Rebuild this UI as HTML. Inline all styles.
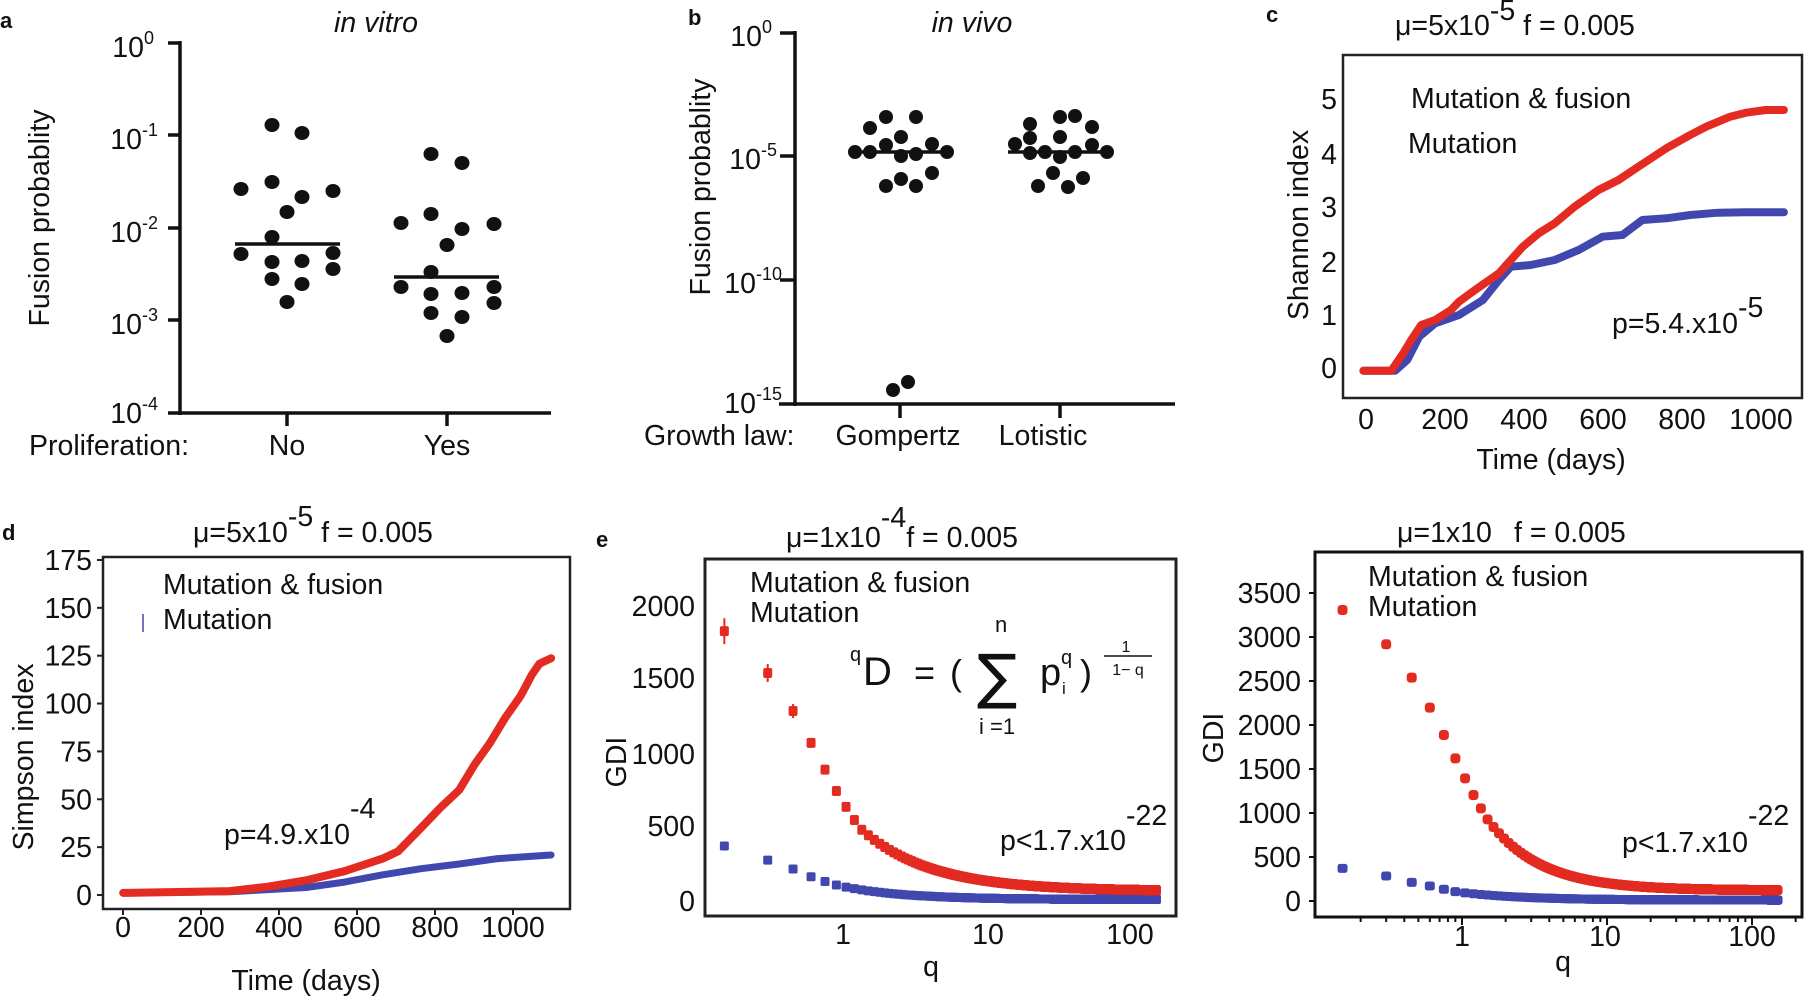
<!DOCTYPE html>
<html><head><meta charset="utf-8"><style>
html,body{margin:0;padding:0;background:#fff;}
svg{display:block;}
text{font-family:"Liberation Sans",sans-serif;fill:#111;}
.t{font-size:28.5px;}
.s{font-size:18px;}
.b{font-size:22px;font-weight:bold;}
</style></head><body>
<svg id="svg" xmlns="http://www.w3.org/2000/svg" width="1805" height="998" viewBox="0 0 1805 998">
<!-- Panel a -->
<text class="b" x="0" y="28">a</text>
<text class="t" x="376" y="32" text-anchor="middle" font-style="italic">in vitro</text>
<g stroke="#111" stroke-width="3.5" fill="none">
<line x1="180" y1="41" x2="180" y2="415"/>
<line x1="168" y1="413" x2="551" y2="413"/>
<line x1="168" y1="43" x2="180" y2="43"/><line x1="168" y1="135" x2="180" y2="135"/><line x1="168" y1="228" x2="180" y2="228"/><line x1="168" y1="320" x2="180" y2="320"/>
<line x1="287" y1="413" x2="287" y2="426"/><line x1="447" y1="413" x2="447" y2="426"/>
<line x1="235" y1="244" x2="340" y2="244"/><line x1="394" y1="277" x2="499" y2="277"/>
</g>
<g text-anchor="end">
<text class="t" x="154" y="57">10<tspan class="s" dy="-13">0</tspan></text>
<text class="t" x="158" y="149">10<tspan class="s" dy="-13">-1</tspan></text>
<text class="t" x="158" y="242">10<tspan class="s" dy="-13">-2</tspan></text>
<text class="t" x="158" y="334">10<tspan class="s" dy="-13">-3</tspan></text>
<text class="t" x="158" y="423">10<tspan class="s" dy="-13">-4</tspan></text>
</g>
<text class="t" transform="translate(49,218) rotate(-90)" text-anchor="middle">Fusion probablity</text>
<text class="t" x="29" y="455">Proliferation:</text>
<text class="t" x="287" y="455" text-anchor="middle">No</text>
<text class="t" x="447" y="455" text-anchor="middle">Yes</text>
<g id="dotsA" fill="#111"></g>

<!-- Panel b -->
<text class="b" x="688" y="25">b</text>
<text class="t" x="972" y="32" text-anchor="middle" font-style="italic">in vivo</text>
<g stroke="#111" stroke-width="3.5" fill="none">
<line x1="795" y1="31" x2="795" y2="406"/>
<line x1="779" y1="404" x2="1175" y2="404"/>
<line x1="780" y1="33" x2="795" y2="33"/><line x1="780" y1="156" x2="795" y2="156"/><line x1="780" y1="280" x2="795" y2="280"/>
<line x1="900" y1="404" x2="900" y2="418"/><line x1="1060" y1="404" x2="1060" y2="418"/>
<line x1="852" y1="152" x2="952" y2="152"/><line x1="1008" y1="152" x2="1107" y2="152"/>
</g>
<g text-anchor="end">
<text class="t" x="772" y="46">10<tspan class="s" dy="-13">0</tspan></text>
<text class="t" x="777" y="169">10<tspan class="s" dy="-13">-5</tspan></text>
<text class="t" x="782" y="293">10<tspan class="s" dy="-13">-10</tspan></text>
<text class="t" x="782" y="413">10<tspan class="s" dy="-13">-15</tspan></text>
</g>
<text class="t" transform="translate(710,187) rotate(-90)" text-anchor="middle">Fusion probablity</text>
<text class="t" x="644" y="445">Growth law:</text>
<text class="t" x="898" y="445" text-anchor="middle">Gompertz</text>
<text class="t" x="1043" y="445" text-anchor="middle">Lotistic</text>
<g id="dotsB" fill="#111"></g>

<!-- Panel c -->
<text class="b" x="1266" y="22">c</text>
<text class="t" x="1395" y="35">μ=5x10<tspan dy="-15">-5</tspan><tspan dy="15"> f = 0.005</tspan></text>
<rect x="1343" y="55" width="459" height="343" fill="none" stroke="#222" stroke-width="2.5"/>
<g text-anchor="end">
<text class="t" x="1337" y="109">5</text><text class="t" x="1337" y="164">4</text><text class="t" x="1337" y="217">3</text>
<text class="t" x="1337" y="272">2</text><text class="t" x="1337" y="325">1</text><text class="t" x="1337" y="378">0</text>
</g>
<g text-anchor="middle">
<text class="t" x="1366" y="429">0</text><text class="t" x="1445" y="429">200</text><text class="t" x="1524" y="429">400</text>
<text class="t" x="1603" y="429">600</text><text class="t" x="1682" y="429">800</text><text class="t" x="1761" y="429">1000</text>
</g>
<text class="t" x="1551" y="469" text-anchor="middle">Time (days)</text>
<text class="t" transform="translate(1308,225) rotate(-90)" text-anchor="middle">Shannon index</text>
<text class="t" x="1411" y="108">Mutation &amp; fusion</text>
<text class="t" x="1408" y="153">Mutation</text>
<g id="curC"></g>
<text class="t" x="1612" y="333">p=5.4.x10<tspan dy="-16">-5</tspan></text>

<!-- Panel d -->
<text class="b" x="2" y="540">d</text>
<text class="t" x="193" y="542">μ=5x10<tspan dy="-16">-5</tspan><tspan dy="16"> f = 0.005</tspan></text>
<rect x="103" y="557" width="467" height="352" fill="none" stroke="#222" stroke-width="2.5"/>
<g id="ticksD" stroke="#222" stroke-width="2"></g>
<g text-anchor="end" id="labD"></g>
<g text-anchor="middle">
<text class="t" x="123" y="937">0</text><text class="t" x="201" y="937">200</text><text class="t" x="279" y="937">400</text>
<text class="t" x="357" y="937">600</text><text class="t" x="435" y="937">800</text><text class="t" x="513" y="937">1000</text>
</g>
<text class="t" x="306" y="990" text-anchor="middle">Time (days)</text>
<text class="t" transform="translate(33,757) rotate(-90)" text-anchor="middle">Simpson index</text>
<text class="t" x="163" y="594">Mutation &amp; fusion</text>
<text class="t" x="163" y="629">Mutation</text>
<line x1="143" y1="614" x2="143" y2="632" stroke="#4048b0" stroke-width="1.5"/>
<g id="curD"></g>
<text class="t" x="224" y="844">p=4.9.x10<tspan dy="-26">-4</tspan></text>

<!-- Panel e -->
<text class="b" x="596" y="547">e</text>
<text class="t" x="786" y="547">μ=1x10<tspan dy="-20">-4</tspan><tspan dy="20">f = 0.005</tspan></text>
<rect x="705" y="559" width="471" height="357" fill="none" stroke="#222" stroke-width="3"/>
<g text-anchor="end">
<text class="t" x="695" y="616">2000</text><text class="t" x="695" y="688">1500</text><text class="t" x="695" y="764">1000</text>
<text class="t" x="695" y="836">500</text><text class="t" x="695" y="911">0</text>
</g>
<g text-anchor="middle">
<text class="t" x="843" y="944">1</text><text class="t" x="988" y="944">10</text><text class="t" x="1130" y="944">100</text>
</g>
<text class="t" x="931" y="976" text-anchor="middle">q</text>
<text class="t" transform="translate(626,762) rotate(-90)" text-anchor="middle">GDI</text>
<text class="t" x="750" y="592">Mutation &amp; fusion</text>
<text class="t" x="750" y="622">Mutation</text>
<g id="ptsE"></g>
<text x="850" y="661" style="font-size:20px">q</text>
<text x="863" y="685" style="font-size:40px">D</text>
<text x="914" y="685" style="font-size:36px">=</text>
<text x="950" y="685" style="font-size:36px">(</text>
<text x="977" y="697" style="font-size:60px;font-family:'DejaVu Sans',sans-serif">∑</text>
<text x="995" y="632" style="font-size:22px">n</text>
<text x="979" y="734" style="font-size:22px">i =1</text>
<text x="1040" y="685" style="font-size:38px">p</text>
<text x="1062" y="694" style="font-size:17px">i</text>
<text x="1061" y="664" style="font-size:20px">q</text>
<text x="1080" y="685" style="font-size:36px">)</text>
<text x="1126" y="652" style="font-size:16px" text-anchor="middle">1</text>
<line x1="1104" y1="656" x2="1152" y2="656" stroke="#111" stroke-width="1.5"/>
<text x="1128" y="675" style="font-size:16px" text-anchor="middle">1− q</text>
<text class="t" x="1000" y="850">p&lt;1.7.x10<tspan dy="-25">-22</tspan></text>

<!-- Panel f -->
<text class="t" x="1397" y="542">μ=1x10</text><text class="t" x="1514" y="542">f = 0.005</text>
<rect x="1315" y="552" width="487" height="365" fill="none" stroke="#111" stroke-width="3"/>
<g id="ticksF" stroke="#111" stroke-width="2"></g>
<g text-anchor="end">
<text class="t" x="1301" y="603">3500</text><text class="t" x="1301" y="647">3000</text><text class="t" x="1301" y="691">2500</text>
<text class="t" x="1301" y="735">2000</text><text class="t" x="1301" y="779">1500</text><text class="t" x="1301" y="823">1000</text>
<text class="t" x="1301" y="867">500</text><text class="t" x="1301" y="911">0</text>
</g>
<g text-anchor="middle">
<text class="t" x="1462" y="946">1</text><text class="t" x="1605" y="946">10</text><text class="t" x="1752" y="946">100</text>
</g>
<text class="t" x="1563" y="971" text-anchor="middle">q</text>
<text class="t" transform="translate(1223,738) rotate(-90)" text-anchor="middle">GDI</text>
<text class="t" x="1368" y="586">Mutation &amp; fusion</text>
<text class="t" x="1368" y="616">Mutation</text>
<g id="ptsF"></g>
<text class="t" x="1622" y="852">p&lt;1.7.x10<tspan dy="-27">-22</tspan></text>
</svg>
<script>
var NS='http://www.w3.org/2000/svg';
function add(p,tag,a,txt){var e=document.createElementNS(NS,tag);for(var k in a)e.setAttribute(k,a[k]);if(txt)e.textContent=txt;document.getElementById(p).appendChild(e);return e;}
var RED='#e32b22',BLUE='#4048b0';
var A=[[272,125],[302,133],[241,189],[272,182],[302,197],[333,191],[287,212],[272,237],[241,254],[272,262],[302,261],[333,253],[333,269],[272,279],[302,284],[287,302],
[431,154],[462,163],[401,223],[431,214],[462,229],[494,224],[447,245],[431,272],[401,287],[431,294],[462,293],[494,287],[494,303],[431,313],[462,317],[447,336]];
A.forEach(function(p){add('dotsA','ellipse',{cx:p[0],cy:p[1],rx:7.5,ry:7});});
var B=[[855,152],[870,152],[886,145],[901,156],[916,154],[932,144],[947,152],[870,128],[886,117],[916,117],[901,137],[886,186],[901,179],[916,186],[932,173],[893,390],[908,382],
[1015,144],[1030,153],[1045,152],[1060,157],[1075,152],[1092,145],[1107,152],[1030,124],[1030,138],[1060,117],[1075,116],[1092,127],[1060,137],[1053,173],[1083,178],[1038,186],[1068,187]];
B.forEach(function(p){add('dotsB','circle',{cx:p[0],cy:p[1],r:7});});
function mapC(l){return l.map(function(p){return (1180+p[0]*0.3986).toFixed(1)+','+(p[1]/3).toFixed(1);}).join(' ');}
var cb=[[460,1112],[540,1112],[570,1080],[600,1010],[640,970],[700,945],[760,900],[800,840],[830,800],[880,795],[940,780],[1000,750],[1060,710],[1110,705],[1160,660],[1220,655],[1280,645],[1350,638],[1420,637],[1515,637]];
var cr=[[460,1112],[530,1112],[560,1060],[580,1020],[605,975],[640,960],[680,930],[700,905],[740,870],[800,820],[830,780],[860,740],[900,700],[940,670],[990,620],[1050,570],[1100,540],[1150,500],[1220,445],[1280,405],[1320,380],[1380,350],[1420,338],[1470,330],[1515,330]];
add('curC','polyline',{points:mapC(cb),fill:'none',stroke:BLUE,'stroke-width':8,'stroke-linecap':'round','stroke-linejoin':'round'});
add('curC','polyline',{points:mapC(cr),fill:'none',stroke:RED,'stroke-width':8,'stroke-linecap':'round','stroke-linejoin':'round'});
var dl=['0','25','50','75','100','125','150','175'];
for(var i=0;i<8;i++){var y=895-i*47.86;add('ticksD','line',{x1:97,y1:y,x2:103,y2:y});add('labD','text',{'class':'t',x:92,y:y+10},dl[i]);}
for(var i=0;i<6;i++){var x=123+i*78;add('ticksD','line',{x1:x,y1:909,x2:x,y2:915});}
function mapD(l){return l.map(function(p){return (p[0]*0.3827).toFixed(1)+','+(429+p[1]*0.361).toFixed(1);}).join(' ');}
var db=[[322,1285],[600,1282],[800,1270],[900,1255],[1000,1235],[1100,1218],[1200,1205],[1300,1190],[1440,1180]];
var dr=[[322,1285],[600,1280],[700,1268],[800,1250],[900,1225],[1000,1190],[1040,1170],[1100,1105],[1150,1050],[1200,1000],[1240,930],[1280,870],[1320,800],[1360,740],[1390,680],[1410,650],[1440,635]];
add('curD','polyline',{points:mapD(db),fill:'none',stroke:BLUE,'stroke-width':7,'stroke-linecap':'round','stroke-linejoin':'round'});
add('curD','polyline',{points:mapD(dr),fill:'none',stroke:RED,'stroke-width':8,'stroke-linecap':'round','stroke-linejoin':'round'});
function L(q){return Math.log(q)/Math.LN10;}
var Y0=901,SY=0.1476;
var er=[1828,1545,1287,1071,890,745,638,549,483],eb=[373,277,217,164,132,108];
function eR(k){var q=0.15*k;return k<=9?er[k-1]:67+416*Math.pow(1.35/q,0.9);}
function eB(k){var q=0.15*k;return k<=6?eb[k-1]:10+98*(0.9/q);}
for(var k=1000;k>=1;k--){var q=0.15*k,x=843+144*L(q);
 add('ptsE','rect',{x:x-4.5,y:Y0-SY*eB(k)-4.5,width:9,height:9,rx:1.5,fill:BLUE});}
for(var k=1000;k>=1;k--){var q=0.15*k,x=843+144*L(q),y=Y0-SY*eR(k);
 add('ptsE','rect',{x:x-4.5,y:y-5,width:9,height:10,rx:2,fill:RED});
 if(k<=3){var h=[13,9,7][k-1];add('ptsE','line',{x1:x,y1:y-h,x2:x,y2:y+h,stroke:RED,'stroke-width':2});}}
var fr=[3307,2917,2538,2197,1886,1621,1394,1204,1053,928],fb=[371,284,212,170,133,106];
function fR(k){var q=0.15*k;return k<=10?fr[k-1]:120+808*Math.pow(1.5/q,1.2);}
function fB(k){var q=0.15*k;return k<=6?fb[k-1]:10+96*(0.9/q);}
for(var i=0;i<8;i++){var y=901-i*44;add('ticksF','line',{x1:1309,y1:y,x2:1315,y2:y});}
[0.2,0.3,0.4,0.5,0.6,0.7,0.8,0.9,1,2,3,4,5,6,7,8,9,10,20,30,40,50,60,70,80,90,100,200].forEach(function(q){var x=1462+145*L(q);if(x>1316&&x<1802){var m=(q==1||q==10||q==100);add('ticksF','line',{x1:x,y1:917,x2:x,y2:m?925:922});}});
for(var k=1000;k>=1;k--){var q=0.15*k,x=1462+145*L(q);
 add('ptsF','rect',{x:x-5,y:901-0.088*fB(k)-4.5,width:10,height:9,rx:2.5,fill:BLUE});}
for(var k=1000;k>=1;k--){var q=0.15*k,x=1462+145*L(q);
 add('ptsF','rect',{x:x-5,y:901-0.088*fR(k)-5,width:10,height:10,rx:3.5,fill:RED});}
</script>
</body></html>
